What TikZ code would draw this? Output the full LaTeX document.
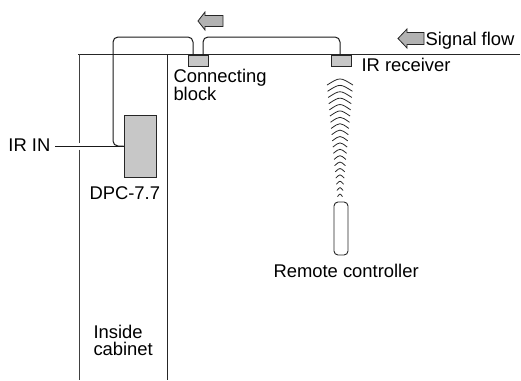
\documentclass[tikz,border=0pt]{standalone}
\usepackage{fontspec}
\setmainfont{Liberation Sans}
\begin{document}
\begin{tikzpicture}[x=1pt,y=-1pt,line width=1pt,
  lbl/.style={inner sep=0pt,font=\fontsize{18.4}{17}\selectfont,align=left},
  box/.style={draw=black!85,fill=black!22,line width=0.9pt,inner sep=0pt},
  wire/.style={draw=black!90,line width=1pt,rounded corners=5pt},
  flow/.style={draw=black!85,fill=black!30,line width=0.8pt},
  wave/.style={draw=black!85,line width=0.8pt}]
\useasboundingbox (0,0) rectangle (521,380);
% cabinet walls
\draw[black!85] (78,54) -- (520,54);
\draw[black!75] (79,54) -- (79,142.5);
\draw[black!75] (79,149.5) -- (79,380);
\draw[black!85] (167,54) -- (167,380);
% boxes
\node[box,minimum width=20pt,minimum height=11pt] (blk) at (198,60.5) {};
\node[box,minimum width=20pt,minimum height=11pt] (rcv) at (341,60.5) {};
\node[box,minimum width=32pt,minimum height=62pt] (dpc) at (140,146) {};
\node[draw=black!85,fill=white,rounded corners=4pt,line width=0.9pt,inner sep=0pt,minimum width=14pt,minimum height=53pt] (remote) at (341,228.5) {};
% labels
\node[lbl,anchor=base west] (sig) at (425,45) {Signal flow};
\node[lbl,anchor=base west] (rcvl) at (361,71) {IR receiver};
\node[lbl,anchor=north west] (conn) at (173,68.3) {Connecting\\block};
\node[lbl,anchor=base west] (irin) at (8,151) {IR IN};
\node[lbl,anchor=base west] (dpcl) at (89,199) {DPC-7.7};
\node[lbl,anchor=base west] (reml) at (273,277) {Remote controller};
\node[lbl,anchor=north west] (cab) at (93,325) {Inside\\cabinet};
% wires
\coordinate (tl) at (113,37);
\draw[wire] ([xshift=-5pt]blk.north) |- (tl) |- (dpc.west);
\draw[wire] ([xshift=5pt]blk.north) |- ([xshift=-1pt]rcv.north |- tl) -- ([xshift=-1pt]rcv.north);
\draw[black!90] (dpc.west) -- ([xshift=4pt]dpc.west -| irin.east);
% flow arrows
\draw[flow] (198,21) -- (205,12) -- (205,15.5) -- (223,15.5) -- (223,26.5) -- (205,26.5) -- (205,30) -- cycle;
\draw[flow] (398,38.5) -- (407,29) -- (407,32.5) -- (424,32.5) -- (424,44.5) -- (407,44.5) -- (407,48) -- cycle;
% IR waves
\foreach \i in {0,...,18}{
  \pgfmathsetmacro\yy{81+\i*6.33}
  \pgfmathsetmacro\ww{26-\i*1.17}
  \pgfmathsetmacro\ss{1.2+0.11*\ww}
  \draw[wave] (340-\ww/2,\yy+\ss) .. controls (340,\yy-\ss) .. (340+\ww/2,\yy+\ss);
}
\end{tikzpicture}
\end{document}
